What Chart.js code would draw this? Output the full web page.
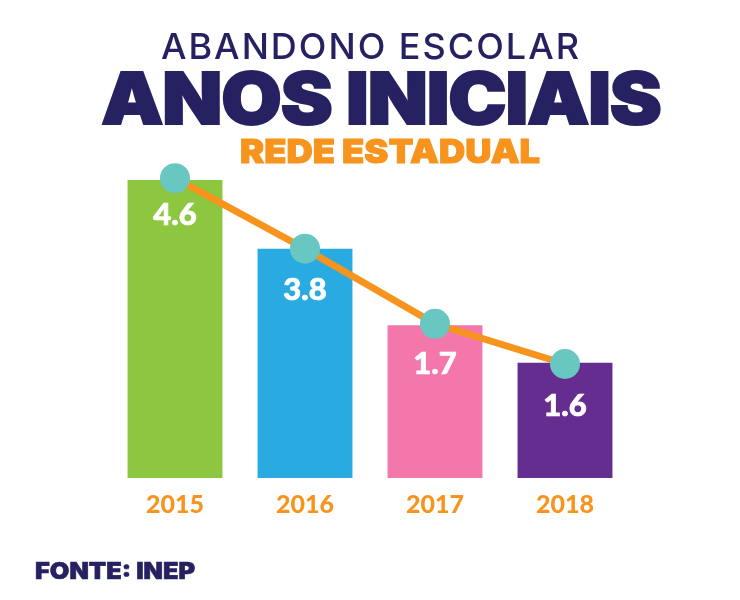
<!DOCTYPE html>
<html>
<head>
<meta charset="utf-8">
<title>Abandono escolar</title>
<script src="https://cdn.jsdelivr.net/npm/chart.js@4"></script>
<style>
html, body { margin: 0; padding: 0; background: #fff; }
#wrap { position: relative; width: 740px; height: 600px; overflow: hidden; }
#wrap div { position: absolute; white-space: nowrap; text-align: center; font-family: Inter, sans-serif; }
#t1 { left: 0; width: 742px; top: 24px; font-size: 36px; line-height: 44px; font-weight: 500; color: #262262; letter-spacing: 2px; }
#t2 { left: 0; width: 762px; top: 53px; font-size: 71px; line-height: 90px; font-weight: 900; color: #262262; -webkit-text-stroke: 2px #262262; letter-spacing: -1px; transform: scaleX(1.1); }
#t3 { left: 0; width: 780px; top: 131px; font-size: 33px; line-height: 40px; font-weight: 900; color: #F7941E; -webkit-text-stroke: 1px #F7941E; transform: scaleX(1.1); }
#src { left: 35px; top: 557px; font-size: 23px; line-height: 28px; font-weight: 900; color: #262262; -webkit-text-stroke: 0.6px #262262; transform: scaleX(1.1); transform-origin: left center; }
canvas { position: absolute; left: 0; top: 0; }
</style>
</head>
<body>
<div id="wrap">
  <canvas id="myChart" width="740" height="600"></canvas>
  <div id="t1">ABANDONO ESCOLAR</div>
  <div id="t2">ANOS INICIAIS</div>
  <div id="t3">REDE ESTADUAL</div>
  <div id="src">FONTE: INEP</div>
</div>
<script>
var years = ["2015", "2016", "2017", "2018"];
// printed figures
var printedValues = ["4.6", "3.8", "1.7", "1.6"];
// the bars in the picture are not to scale with the printed figures,
// so these are the heights as drawn, measured with the first bar = 4.6
var barHeights = [4.6, 3.54, 2.36, 1.78];
var lineValues = [4.63, 3.54, 2.38, 1.76];
var barColors = ["#8DC63F", "#29ABE2", "#F377AB", "#662D91"];

var labelDrop = [35, 41, 39, 43];

var barLabels = {
    id: 'barLabels',
    afterDatasetsDraw: function (chart) {
        var ctx = chart.ctx;
        var bars = chart.getDatasetMeta(1).data;
        ctx.save();
        ctx.fillStyle = '#fff';
        ctx.strokeStyle = '#fff';
        ctx.lineWidth = 0.7;
        ctx.font = '900 31px Lato, sans-serif';
        ctx.textAlign = 'center';
        ctx.textBaseline = 'middle';
        bars.forEach(function (bar, i) {
            ctx.fillText(printedValues[i], bar.x, bar.y + labelDrop[i]);
            ctx.strokeText(printedValues[i], bar.x, bar.y + labelDrop[i]);
        });
        ctx.restore();
    }
};

var chart = new Chart(document.getElementById("myChart").getContext('2d'), {
    type: 'bar',
    data: {
        labels: years,
        datasets: [{
            type: 'line',
            data: lineValues,
            borderColor: '#F7941E',
            borderWidth: 7,
            tension: 0,
            pointRadius: 15,
            pointHoverRadius: 15,
            pointBorderWidth: 0,
            pointBackgroundColor: '#68C7C1',
            order: 1
        }, {
            data: barHeights,
            backgroundColor: barColors,
            barPercentage: 0.73,
            categoryPercentage: 1,
            order: 2
        }]
    },
    options: {
        responsive: false,
        animation: false,
        layout: { padding: { left: 110, right: 110, top: 160, bottom: 72 } },
        plugins: { legend: { display: false }, title: { display: false }, tooltip: { enabled: false } },
        scales: {
            x: {
                grid: { display: false, drawTicks: false },
                border: { display: false },
                afterFit: function (scale) { scale.height = 50; },
                ticks: { color: '#F7941E', padding: 12, font: { family: 'Lato, sans-serif', size: 25, weight: '900' } }
            },
            y: { display: false, min: 0, max: 4.91 }
        }
    },
    plugins: [barLabels]
});
</script>
</body>
</html>
